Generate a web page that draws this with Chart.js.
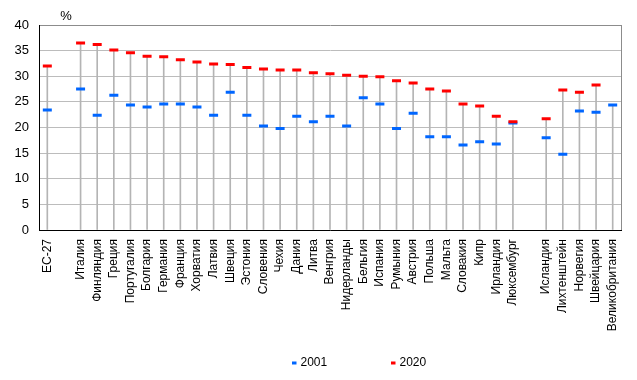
<!DOCTYPE html>
<html>
<head>
<meta charset="utf-8">
<script src="https://cdn.jsdelivr.net/npm/chart.js@4/dist/chart.umd.min.js"></script>
<style>
  html, body { margin: 0; padding: 0; background: #fff; }
  #wrap { width: 637px; height: 380px; }
</style>
</head>
<body>
<div id="wrap"><canvas id="c" width="637" height="380"></canvas></div>
<script>
const categories = ['ЕС-27', '', 'Италия', 'Финляндия', 'Греция', 'Португалия', 'Болгария', 'Германия', 'Франция', 'Хорватия', 'Латвия', 'Швеция', 'Эстония', 'Словения', 'Чехия', 'Дания', 'Литва', 'Венгрия', 'Нидерланды', 'Бельгия', 'Испания', 'Румыния', 'Австрия', 'Польша', 'Мальта', 'Словакия', 'Кипр', 'Ирландия', 'Люксембург', '', 'Исландия', 'Лихтенштейн', 'Норвегия', 'Швейцария', 'Великобритания'];
const values2001 = [23.4, null, 27.5, 22.4, 26.3, 24.4, 24.0, 24.6, 24.6, 24.0, 22.4, 26.9, 22.4, 20.3, 19.8, 22.2, 21.1, 22.2, 20.3, 25.8, 24.6, 19.8, 22.8, 18.2, 18.2, 16.6, 17.2, 16.8, 20.9, null, 18.0, 14.8, 23.2, 23.0, 24.4];
const values2020 = [32.0, null, 36.5, 36.2, 35.1, 34.6, 33.9, 33.8, 33.2, 32.8, 32.4, 32.3, 31.7, 31.4, 31.2, 31.2, 30.7, 30.5, 30.2, 30.0, 29.9, 29.1, 28.7, 27.5, 27.1, 24.6, 24.2, 22.2, 21.1, null, 21.7, 27.3, 26.9, 28.3, null];
const seriesLabels = ['2001', '2020'];
const yTicks = [0, 5, 10, 15, 20, 25, 30, 35, 40];
const unitLabel = '%';

// helper: vertical drop line reaches the higher of the two markers
const dropTop = categories.map((_, i) => {
  const a = values2001[i], b = values2020[i];
  if (a == null && b == null) return null;
  return Math.max(a == null ? -Infinity : a, b == null ? -Infinity : b);
});

Chart.defaults.font.family = "'Liberation Sans', Arial, sans-serif";
Chart.defaults.font.size = 12;
Chart.defaults.color = '#000';

const extras = {
  id: 'extras',
  afterDraw(chart) {
    const ctx = chart.ctx;
    const a = chart.chartArea;
    ctx.save();
    // right border
    ctx.strokeStyle = '#8c8c8c';
    ctx.lineWidth = 1;
    ctx.beginPath();
    ctx.moveTo(Math.round(a.right) + 0.5, a.top);
    ctx.lineTo(Math.round(a.right) + 0.5, a.bottom);
    ctx.stroke();
    // unit label
    ctx.fillStyle = '#000';
    ctx.font = "13px 'Liberation Sans', Arial, sans-serif";
    ctx.textAlign = 'center';
    ctx.textBaseline = 'middle';
    ctx.fillText(unitLabel, 66, 16);
    // legend
    const items = [
      { x: 292, ds: chart.data.datasets[0] },
      { x: 391, ds: chart.data.datasets[1] }
    ];
    ctx.font = "12px 'Liberation Sans', Arial, sans-serif";
    ctx.textAlign = 'left';
    items.forEach(it => {
      ctx.strokeStyle = it.ds.pointBorderColor;
      ctx.lineWidth = 3;
      ctx.beginPath();
      ctx.moveTo(it.x, 363);
      ctx.lineTo(it.x + 4.5, 363);
      ctx.stroke();
      ctx.fillStyle = '#000';
      ctx.fillText(it.ds.label, it.x + 8.5, 363);
    });
    ctx.restore();
  }
};

new Chart(document.getElementById('c'), {
  data: {
    labels: categories,
    datasets: [
      {
        type: 'line',
        label: seriesLabels[0],
        data: values2001,
        showLine: false,
        pointStyle: 'line',
        pointRadius: 4.5,
        pointHoverRadius: 4.5,
        pointBorderWidth: 3,
        pointBorderColor: '#0066ff',
        borderColor: '#0066ff',
        backgroundColor: '#0066ff',
        order: 2
      },
      {
        type: 'line',
        label: seriesLabels[1],
        data: values2020,
        showLine: false,
        pointStyle: 'line',
        pointRadius: 4.5,
        pointHoverRadius: 4.5,
        pointBorderWidth: 3,
        pointBorderColor: '#ff0000',
        borderColor: '#ff0000',
        backgroundColor: '#ff0000',
        order: 1
      },
      {
        type: 'bar',
        label: 'drop',
        data: dropTop,
        backgroundColor: '#b4b4b4',
        barThickness: 1,
        order: 10
      }
    ]
  },
  options: {
    responsive: false,
    animation: false,
    layout: { padding: { top: 25, right: 16, bottom: 0, left: 0 } },
    plugins: {
      legend: { display: false },
      tooltip: { enabled: false },
      title: { display: false }
    },
    scales: {
      x: {
        type: 'category',
        offset: true,
        grid: { display: true, drawOnChartArea: false, drawTicks: false, color: 'rgba(0,0,0,0)' },
        border: { display: true, color: '#000', width: 1 },
        ticks: {
          autoSkip: false,
          maxRotation: 90,
          minRotation: 90,
          padding: 9,
          font: { size: 12 },
          color: '#000'
        },
        afterFit(scale) { scale.height = 150; }
      },
      y: {
        min: 0,
        max: 40,
        afterBuildTicks(scale) { scale.ticks = yTicks.map(v => ({ value: v })); },
        grid: {
          drawTicks: false,
          color: ctx => (ctx.tick && ctx.tick.value === 40 ? '#8c8c8c' : '#bcbcbc')
        },
        border: { display: true, color: '#000', width: 1 },
        ticks: { padding: 10, font: { size: 13 }, color: '#000' },
        afterFit(scale) { scale.width = 39; }
      }
    }
  },
  plugins: [extras]
});
</script>
</body>
</html>
